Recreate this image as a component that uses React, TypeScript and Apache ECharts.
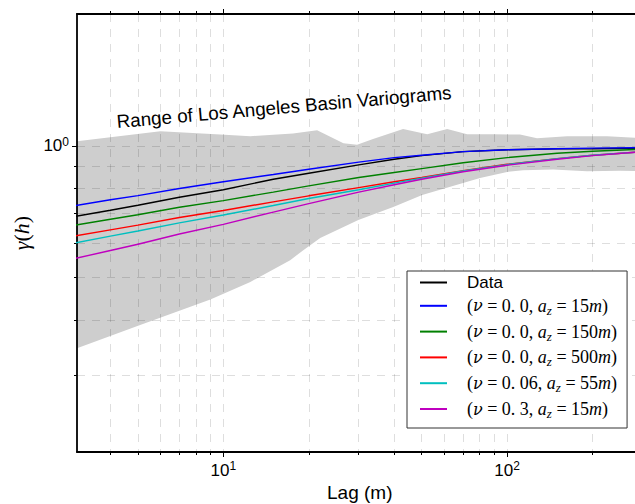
import React, { useEffect, useRef } from 'react';
import * as echarts from 'echarts';

// ---- data ----
const lags = [3, 4, 5, 7, 10, 15, 20, 30, 40, 50, 70, 100, 150, 200, 300];
const dataGamma = [0.690, 0.713, 0.732, 0.763, 0.794, 0.839, 0.866, 0.905, 0.932, 0.950, 0.970, 0.980, 0.984, 0.985, 0.988];
const modelBlue = [0.730, 0.753, 0.770, 0.799, 0.828, 0.860, 0.884, 0.918, 0.940, 0.952, 0.970, 0.980, 0.985, 0.988, 0.990];
const modelGreen = [0.659, 0.680, 0.696, 0.724, 0.750, 0.784, 0.810, 0.847, 0.869, 0.887, 0.915, 0.940, 0.962, 0.972, 0.983];
const modelRed = [0.623, 0.643, 0.659, 0.686, 0.712, 0.745, 0.769, 0.803, 0.828, 0.847, 0.878, 0.908, 0.935, 0.952, 0.970];
const modelCyan = [0.600, 0.622, 0.639, 0.667, 0.695, 0.731, 0.758, 0.794, 0.822, 0.844, 0.876, 0.906, 0.935, 0.952, 0.970];
const modelMagenta = [0.553, 0.577, 0.596, 0.629, 0.662, 0.706, 0.738, 0.784, 0.815, 0.839, 0.873, 0.903, 0.932, 0.950, 0.970];

const modelNu = ['0.0', '0.0', '0.0', '0.06', '0.3'];
const modelAz = ['15', '150', '500', '55', '15'];
const modelColors = ['#0000ff', '#008000', '#ff0000', '#00bfbf', '#bf00bf'];
const modelValues = [modelBlue, modelGreen, modelRed, modelCyan, modelMagenta];

const bandUpperLag = [3.05, 6.0, 9.76, 12.45, 17.6, 21.4, 26.5, 29.6, 33.7, 43.0, 52.3, 61.5, 72.3, 89.3, 111, 127.5, 162.7, 225, 300];
const bandUpper = [1.025, 1.080, 1.061, 1.052, 1.067, 1.086, 1.014, 1.006, 1.036, 1.092, 1.063, 1.092, 1.063, 1.063, 1.061, 1.041, 1.052, 1.052, 1.041];
const bandLowerLag = [3.05, 4.98, 9.0, 12.45, 17.2, 19.13, 21.95, 29.9, 39.7, 50.2, 80.3, 100, 113.8, 145.2, 191.3, 250, 300];
const bandLower = [0.345, 0.388, 0.446, 0.489, 0.548, 0.578, 0.616, 0.677, 0.725, 0.772, 0.844, 0.872, 0.880, 0.883, 0.875, 0.877, 0.875];

const xMajor = [10, 100];
const xMinor = [4, 5, 6, 7, 8, 9, 20, 30, 40, 50, 60, 70, 80, 90, 200];
const yMajor = [1];
const yMinor = [0.3, 0.4, 0.5, 0.6, 0.7, 0.8, 0.9];
const X_MIN = 3.05;
const X_MAX = 300;
const Y_MIN = 0.2;
const Y_MAX = 2;

const SANS = '"Liberation Sans", Arial, Helvetica, sans-serif';
const SERIF = '"Liberation Serif", "Times New Roman", serif';
const GREEK = '"DejaVu Serif", serif';

const gridLine = { show: true, lineStyle: { color: 'rgba(0,0,0,0.13)', type: [8, 7], width: 1 } };
const axisLineStyle = { show: true, onZero: false, lineStyle: { color: '#000', width: 1.8 } };
const tickLabelRich = {
  a: { fontFamily: SANS, fontSize: 17, lineHeight: 20, color: '#000' },
  b: { fontFamily: SANS, fontSize: 12, lineHeight: 13, verticalAlign: 'top', color: '#000' },
};
const supLabel = (v: number) => `{a|10}{b|${Math.round(Math.log10(v))}}`;

function xAxisDef(position: string, ticks: number[], len: number, major: boolean, showLine: boolean, grid: boolean, labels: boolean) {
  return {
    type: 'log', logBase: 10, min: X_MIN, max: X_MAX, position, z: 2,
    axisLine: showLine ? axisLineStyle : { show: false },
    axisTick: { show: true, customValues: ticks, length: len, inside: false, lineStyle: { color: '#000', width: 1 } },
    axisLabel: labels ? { show: true, customValues: ticks, formatter: supLabel, margin: 8, rich: tickLabelRich } : { show: false },
    splitLine: grid ? gridLine : { show: false },
    minorTick: { show: false },
    minorSplitLine: { show: false },
    ...(major && labels ? {
      name: 'Lag (m)', nameLocation: 'middle', nameGap: 28,
      nameTextStyle: { fontFamily: SANS, fontSize: 19, color: '#000' },
    } : {}),
  };
}

function yAxisDef(ticks: number[], len: number, major: boolean) {
  return {
    type: 'log', logBase: 10, min: Y_MIN, max: Y_MAX, position: 'left', z: 2,
    axisLine: major ? axisLineStyle : { show: false },
    axisTick: { show: true, customValues: ticks, length: len, lineStyle: { color: '#000', width: 1 } },
    axisLabel: major ? { show: true, customValues: ticks, formatter: supLabel, margin: 8, rich: tickLabelRich } : { show: false },
    splitLine: gridLine,
    minorTick: { show: false },
    ...(major ? {
      name: '{i|γ}{r|(}{i|h}{r|)}', nameLocation: 'middle', nameGap: 44,
      nameTextStyle: {
        rich: {
          i: { fontFamily: SERIF, fontStyle: 'italic', fontSize: 22, color: '#000' },
          r: { fontFamily: SERIF, fontSize: 22, color: '#000' },
        },
      },
    } : {}),
  };
}

const modelName = (k: number) => `(ν = ${modelNu[k]}, a_z = ${modelAz[k]}m)`;
const richLegend: Record<string, string> = { Data: '{d|Data}' };
modelNu.forEach((nu, k) => {
  richLegend[modelName(k)] = `{r|(}{g|ν}{r| = ${nu.replace('.', '. ')}, }{i|a}{s|z}{r| = ${modelAz[k]}}{i|m}{r|)}`;
});

export default function App() {
  const ref = useRef<HTMLDivElement>(null);
  useEffect(() => {
    const chart = echarts.init(ref.current!, undefined, { renderer: 'svg' });
    const lineSeries = [
      { name: 'Data', color: '#000000', values: dataGamma },
      ...modelValues.map((vals, k) => ({ name: modelName(k), color: modelColors[k], values: vals })),
    ].map((s) => ({
      type: 'line', name: s.name, color: s.color, xAxisIndex: 0, yAxisIndex: 0, z: 3,
      showSymbol: false, symbol: 'none', smooth: false,
      lineStyle: { color: s.color, width: 1.4 },
      data: lags.map((l, i) => [l, s.values[i]]),
    }));

    const option: any = {
      animation: false,
      backgroundColor: '#ffffff',
      grid: { left: 77, top: 14, width: 565.5, height: 438, outerBoundsMode: 'none', containLabel: false },
      xAxis: [
        xAxisDef('bottom', xMajor, 5, true, true, true, true),
        xAxisDef('bottom', xMinor, 3, false, false, true, false),
        xAxisDef('top', xMajor, 5, true, true, false, false),
        xAxisDef('top', xMinor, 3, false, false, false, false),
      ],
      yAxis: [yAxisDef(yMajor, 5, true), yAxisDef(yMinor, 3, false)],
      legend: {
        orient: 'vertical', left: 407, top: 271, z: 10,
        icon: 'rect', itemWidth: 27, itemHeight: 2, itemGap: 5.8,
        padding: [3, 10, 8, 13],
        backgroundColor: '#ffffff', borderColor: '#333333', borderWidth: 1, borderRadius: 0,
        data: lineSeries.map((s) => s.name),
        formatter: (name: string) => richLegend[name] || name,
        textStyle: {
          color: '#000', padding: [0, 0, 0, 15],
          rich: {
            d: { fontFamily: SANS, fontSize: 17, lineHeight: 22, color: '#000' },
            r: { fontFamily: SERIF, fontSize: 18, lineHeight: 22, color: '#000' },
            i: { fontFamily: SERIF, fontStyle: 'italic', fontSize: 18, lineHeight: 22, color: '#000' },
            g: { fontFamily: GREEK, fontStyle: 'italic', fontSize: 16, lineHeight: 22, color: '#000' },
            s: { fontFamily: SERIF, fontStyle: 'italic', fontSize: 13, lineHeight: 13, verticalAlign: 'bottom', color: '#000' },
          },
        },
      },
      graphic: [
        {
          type: 'text', x: 284, y: 107, rotation: (5 * Math.PI) / 180, z: 10,
          style: {
            text: 'Range of Los Angeles Basin Variograms',
            fontFamily: SANS, fontSize: 18.8, fill: '#000',
            align: 'center', verticalAlign: 'middle',
          },
        },
      ],
      series: [
        {
          type: 'custom', name: 'band', xAxisIndex: 0, yAxisIndex: 0, z: 1, silent: true,
          data: [[bandUpperLag[0], bandUpper[0]]],
          renderItem: (_params: any, api: any) => {
            const pts: number[][] = [];
            for (let i = 0; i < bandUpperLag.length; i++) pts.push(api.coord([bandUpperLag[i], bandUpper[i]]));
            for (let i = bandLowerLag.length - 1; i >= 0; i--) pts.push(api.coord([bandLowerLag[i], bandLower[i]]));
            return { type: 'polygon', shape: { points: pts }, style: { fill: '#cecece', stroke: null } };
          },
        },
        ...lineSeries,
      ],
    };
    chart.setOption(option);
    return () => chart.dispose();
  }, []);
  return <div ref={ref} style={{ position: 'fixed', left: 0, top: 0, width: 635, height: 504, background: '#fff' }} />;
}
